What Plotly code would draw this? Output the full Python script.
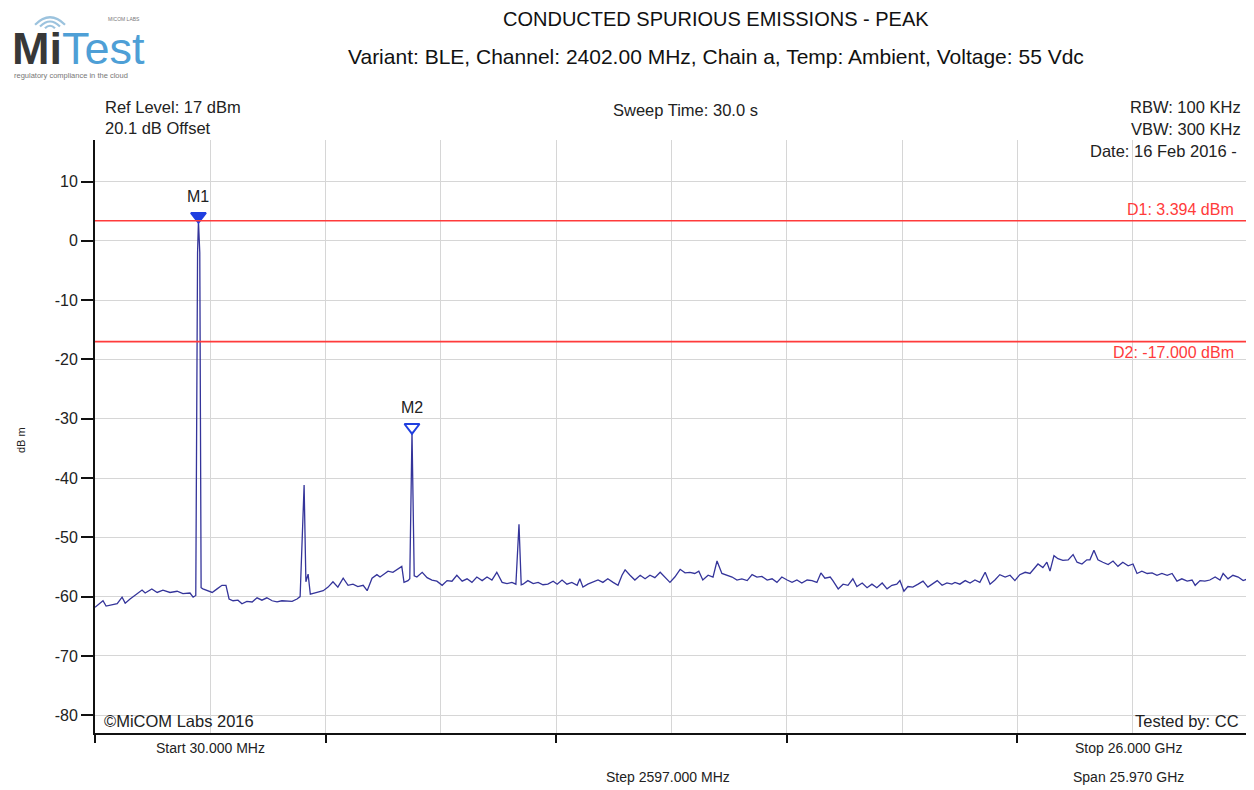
import plotly.graph_objects as go

# sweep settings (GHz)
start_ghz = 0.03
stop_ghz = 26.0
step_ghz = 2.597
ref_level = 17
y_bottom = -83
y_ticks = [10, 0, -10, -20, -30, -40, -50, -60, -70, -80]

# trace: frequency (GHz), level (dBm)
freq_ghz = [
    0.03, 0.21, 0.28, 0.37, 0.53, 0.64, 0.71, 0.82, 0.98, 1.09, 1.16, 1.31, 1.43, 1.56, 1.72, 1.88, 2.01, 2.17, 2.24,
    2.30, 2.34, 2.36, 2.39, 2.42,
    2.46, 2.55, 2.67, 2.78, 2.89, 2.98, 3.05, 3.14, 3.25, 3.34, 3.45, 3.57, 3.68, 3.79, 3.90, 4.02, 4.13, 4.24, 4.35, 4.47, 4.58,
    4.65, 4.74, 4.78, 4.83, 4.88,
    5.03, 5.17, 5.28, 5.39, 5.50, 5.62, 5.73, 5.84, 5.95, 6.07, 6.16, 6.27, 6.38, 6.45, 6.56, 6.63, 6.74, 6.85, 6.94, 6.99, 7.08,
    7.12, 7.17, 7.22,
    7.28, 7.40, 7.51, 7.62, 7.73, 7.85, 7.96, 8.07, 8.18, 8.30, 8.41, 8.52, 8.63, 8.75, 8.86, 8.97, 9.08, 9.20, 9.31, 9.42, 9.51,
    9.58, 9.63,
    9.67, 9.78, 9.90, 10.01, 10.12, 10.23, 10.35, 10.44, 10.55, 10.66, 10.77, 10.89, 10.95, 11.02, 11.13, 11.25, 11.36, 11.47,
    11.58, 11.70, 11.81, 11.90, 11.97, 12.08, 12.19, 12.31, 12.42, 12.53, 12.64, 12.76, 12.87, 12.98, 13.09, 13.21, 13.32,
    13.43, 13.54, 13.63, 13.72, 13.84, 13.95, 14.04, 14.15, 14.27, 14.38, 14.49, 14.60, 14.72, 14.83, 14.94, 15.05, 15.17,
    15.28, 15.39, 15.50, 15.62, 15.73, 15.84, 15.95, 16.07, 16.18, 16.29, 16.38, 16.47, 16.59, 16.65, 16.77, 16.88, 16.99,
    17.10, 17.19, 17.31, 17.42, 17.53, 17.64, 17.76, 17.87, 17.98, 18.09, 18.16, 18.25, 18.34, 18.45, 18.57, 18.68, 18.79,
    18.91, 19.00, 19.11, 19.22, 19.33, 19.40, 19.51, 19.63, 19.74, 19.85, 19.96, 20.08, 20.19, 20.30, 20.41, 20.53, 20.64,
    20.75, 20.86, 20.98, 21.09, 21.20, 21.27, 21.38, 21.47, 21.54, 21.63, 21.72, 21.83, 21.95, 22.06, 22.15, 22.26, 22.37,
    22.44, 22.53, 22.62, 22.73, 22.85, 22.96, 23.07, 23.18, 23.30, 23.41, 23.50, 23.61, 23.73, 23.84, 23.95, 24.06, 24.18,
    24.29, 24.40, 24.51, 24.63, 24.74, 24.81, 24.92, 25.03, 25.14, 25.26, 25.37, 25.44, 25.55, 25.66, 25.78, 25.89, 26.00,
]
level_dbm = [
    -61.8, -60.7, -61.6, -61.5, -61.2, -60.1, -61.1, -60.4, -59.6, -58.9, -59.4, -58.7, -59.3, -58.9, -59.3, -59.1, -59.5, -59.4, -60.1,
    -59.8, -2.0, 3.394, -2.0, -58.5,
    -58.7, -58.9, -59.3, -58.7, -58.1, -58.1, -60.4, -60.7, -60.6, -61.2, -60.8, -60.9, -60.2, -60.6, -60.2, -60.7, -60.9, -60.7, -60.8, -60.8, -60.4,
    -60.0, -41.2, -57.5, -56.2, -59.6,
    -59.3, -59.0, -58.4, -57.5, -58.4, -56.9, -58.1, -57.9, -58.3, -58.1, -59.0, -56.9, -56.3, -56.7, -56.1, -55.7, -55.9, -55.3, -54.9, -57.6, -57.3,
    -57.0, -32.2, -56.5,
    -56.7, -55.9, -56.8, -57.2, -57.4, -58.1, -57.3, -57.4, -56.4, -57.4, -57.0, -57.6, -56.7, -57.3, -56.7, -57.2, -55.9, -57.6, -57.8, -57.6, -57.9,
    -47.8, -58.0,
    -57.9, -57.3, -57.8, -57.6, -58.0, -57.9, -57.4, -57.9, -57.2, -57.9, -57.6, -58.1, -57.0, -58.4, -57.9, -57.6, -57.2, -57.6,
    -57.0, -57.6, -58.1, -56.4, -55.5, -56.4, -57.2, -56.4, -57.0, -56.4, -56.8, -55.9, -56.7, -57.6, -56.7, -55.4, -56.0,
    -55.9, -56.1, -55.7, -57.2, -56.4, -56.7, -54.0, -56.1, -56.4, -56.7, -57.2, -57.0, -57.3, -56.3, -56.7, -56.6, -57.2,
    -57.0, -57.6, -56.7, -57.2, -57.6, -57.2, -57.7, -57.2, -57.3, -57.6, -56.0, -56.9, -56.7, -57.3, -58.7, -57.9, -58.1,
    -57.0, -58.3, -57.7, -58.5, -57.9, -58.5, -57.7, -58.7, -58.1, -57.9, -57.3, -59.1, -58.3, -58.4, -57.9, -57.4, -58.4,
    -57.7, -57.3, -58.1, -57.7, -57.9, -57.6, -57.9, -57.3, -57.7, -57.2, -57.6, -55.9, -57.9, -57.2, -56.3, -56.7, -56.4,
    -57.3, -56.3, -55.9, -56.1, -55.1, -54.5, -55.1, -54.2, -55.7, -53.1, -53.6, -53.9, -53.8, -52.9, -54.2, -54.5, -53.8,
    -53.8, -52.2, -53.8, -54.2, -54.6, -54.0, -54.9, -54.2, -54.8, -54.5, -56.1, -55.7, -56.1, -56.0, -56.4, -56.1, -56.4,
    -56.1, -57.4, -57.0, -57.4, -57.2, -58.1, -57.3, -57.4, -57.2, -56.7, -57.2, -56.1, -57.0, -56.4, -56.7, -57.3, -57.0,
]

marker_names = ["M1", "M2"]
marker_freq = [2.36, 7.17]
marker_level = [3.394, -32.2]
marker_symbols = ["triangle-down", "triangle-down-open"]

limit_names = ["D1", "D2"]
limit_level = [3.394, -17.0]

title = "CONDUCTED SPURIOUS EMISSIONS - PEAK"
subtitle = "Variant: BLE, Channel: 2402.00 MHz, Chain a, Temp: Ambient, Voltage: 55 Vdc"

# page coordinates of the plot area (the page body adds an 8px margin)
PAGE_W, PAGE_H, BODY = 1254, 790, 8
L, R, T, B = 95, 1248, 140, 733
W, H = PAGE_W - BODY, PAGE_H - BODY
FONT = "Liberation Sans, Arial, sans-serif"


def px(x):
    return (x - L) / (R - L)


def py(y):
    return (B - y) / (B - T)


fig = go.Figure()

fig.add_trace(go.Scatter(
    x=freq_ghz, y=level_dbm, mode="lines",
    line=dict(color="#34349a", width=1.3), hoverinfo="x+y", showlegend=False,
))

# markers: triangle tip sits on the peak
dy = (ref_level - y_bottom) / (B - T) * 4.5
fig.add_trace(go.Scatter(
    x=marker_freq, y=[v + dy for v in marker_level], mode="markers",
    marker=dict(symbol=marker_symbols, size=13, color="#1f3fe0", line=dict(color="#1f3fe0", width=2)),
    showlegend=False, hoverinfo="skip",
))

annotations = []
for name, f, v in zip(marker_names, marker_freq, marker_level):
    annotations.append(dict(x=f, y=v, xref="x", yref="y", text=name, showarrow=False,
                            yshift=24, font=dict(size=16, color="#222")))

for i, (name, v) in enumerate(zip(limit_names, limit_level)):
    fig.add_hline(y=v, line=dict(color="#ff3b3b", width=1.6))
    annotations.append(dict(x=px(1236), y=v, xref="paper", yref="y", xanchor="right",
                            yanchor="bottom" if i == 0 else "top", yshift=1 if i == 0 else 0,
                            text=f"{name}: {v:.3f} dBm", showarrow=False,
                            font=dict(size=16, color="#ff3b3b")))


def label(x, y, text, anchor="left", size=16.5, color="#222", **kw):
    annotations.append(dict(x=px(x), y=py(y), xref="paper", yref="paper", xanchor=anchor,
                            yanchor="middle", text=text, showarrow=False,
                            font=dict(size=size, color=color, family=FONT), **kw))


label(103, 107, "Ref Level: 17 dBm")
label(103, 128, "20.1 dB Offset")
label(685, 110, "Sweep Time: 30.0 s", "center")
label(1243, 107, "RBW: 100 KHz", "right")
label(1243, 129, "VBW: 300 KHz", "right")
label(1239, 151, "Date: 16 Feb 2016 -", "right")
label(102, 721, "©MiCOM Labs 2016")
label(1241, 721, "Tested by: CC", "right")
label(210, 748, "Start 30.000 MHz", "center", 14)
label(1128, 748, "Stop 26.000 GHz", "center", 14)
label(668, 777, "Step 2597.000 MHz", "center", 14)
label(1128, 777, "Span 25.970 GHz", "center", 14)
label(716, 19, title, "center", 20, "#111")
label(716, 56, subtitle, "center", 21, "#111")
annotations.append(dict(x=px(13), y=py(440), xref="paper", yref="paper", text="dB m", textangle=-90,
                        showarrow=False, font=dict(size=11, color="#222", family=FONT)))

# logo
label(10, 48, "<b>Mi</b><span style='color:#4e9fd6'>Test</span>", "left", 45, "#383838", height=40)
label(12, 76, "regulatory compliance in the cloud", "left", 7.5, "#777")
label(106, 19, "MICOM LABS", "left", 5, "#777")

shapes = [
    dict(type="line", xref="paper", yref="paper", x0=px(165), x1=px(PAGE_W), y0=py(35), y1=py(35),
         line=dict(color="#111", width=3)),
    dict(type="rect", xref="paper", yref="paper", x0=0, x1=1, y0=0, y1=1,
         line=dict(color="#d0d0d0", width=1), layer="below"),
]
# wifi arcs above the logo
for r in [5, 10, 15]:
    cx, cy = 50, 30
    path = "M {:.4f},{:.4f} Q {:.4f},{:.4f} {:.4f},{:.4f}".format(
        px(cx - r), py(cy - r * 0.35), px(cx), py(cy - r * 1.35), px(cx + r), py(cy - r * 0.35))
    shapes.append(dict(type="path", xref="paper", yref="paper", path=path,
                       line=dict(color="#9cc3de", width=2.2)))

fig.update_layout(
    width=W, height=H, autosize=False,
    margin=dict(l=L - BODY, r=PAGE_W - R, t=T - BODY, b=PAGE_H - B),
    paper_bgcolor="white", plot_bgcolor="white",
    font=dict(family=FONT, size=14, color="#222"),
    annotations=annotations, shapes=shapes, showlegend=False,
)
fig.update_xaxes(
    range=[start_ghz, stop_ghz], tick0=start_ghz, dtick=2 * step_ghz,
    showticklabels=False, ticks="outside", ticklen=8, tickcolor="#111", tickwidth=1.5,
    showgrid=True, gridcolor="#d6d6d6", gridwidth=1,
    minor=dict(tick0=start_ghz, dtick=step_ghz, showgrid=True, gridcolor="#d6d6d6", ticks=""),
    showline=True, linecolor="#111", linewidth=2, zeroline=False,
)
fig.update_yaxes(
    range=[y_bottom, ref_level], tickvals=y_ticks, ticktext=[str(v) for v in y_ticks],
    ticks="outside", ticklen=12, tickcolor="#111", tickwidth=1.5,
    tickfont=dict(size=16, color="#222"),
    showgrid=True, gridcolor="#d6d6d6", gridwidth=1,
    showline=True, linecolor="#111", linewidth=2, zeroline=False,
)

fig.write_html("out.html")
